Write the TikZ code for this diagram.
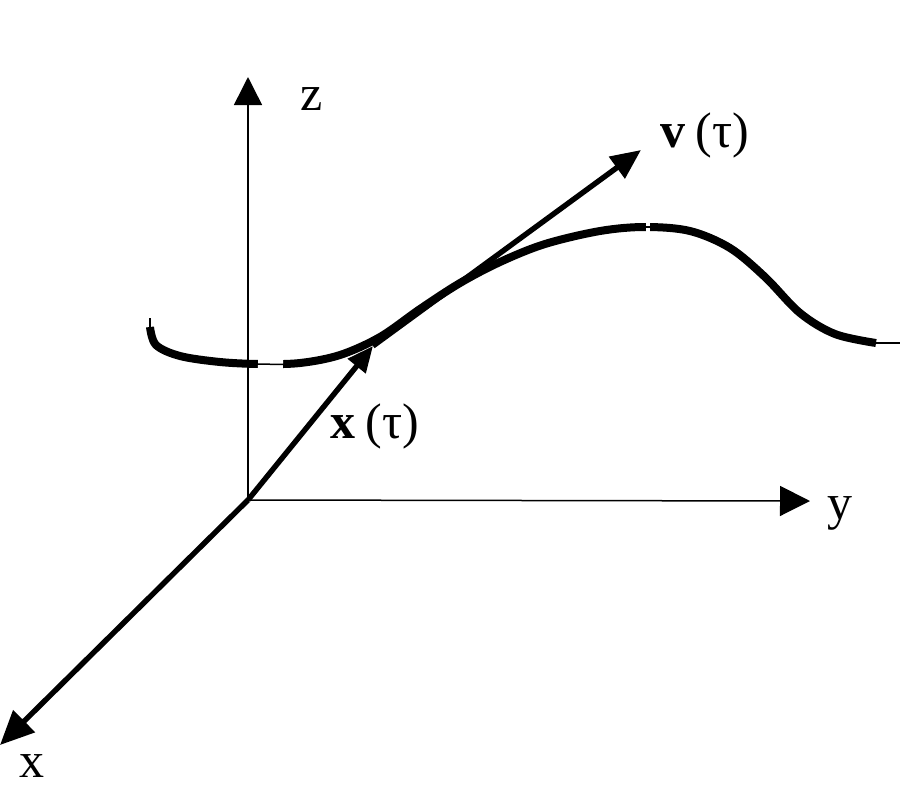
\documentclass[tikz,border=0pt]{standalone}
\usepackage{fontspec}
\setmainfont{Liberation Serif}
\usetikzlibrary{arrows.meta}
\begin{document}
\begin{tikzpicture}[x=0.5pt,y=-0.5pt,
  axis/.style={line width=0.75pt},
  vec/.style={line width=2.7pt},
  curveline/.style={line width=4pt},
  lbl/.style={font=\fontsize{25}{29}\selectfont, inner sep=0pt, anchor=base}]
\useasboundingbox (0,0) rectangle (900,800);
\coordinate (O) at (248,500);
\coordinate (Z) at (248,77);
\coordinate (Y) at (810,501);
\coordinate (X) at (0,745);
\coordinate (P) at (373,346);
\coordinate (V) at (641,150);
% axes
\draw[axis,-{Triangle[length=14pt,width=14pt]}] (O) -- (Z);
\draw[axis,-{Triangle[length=15pt,width=15pt]}] (O) -- (Y);
\draw[vec,-{Triangle[length=17pt,width=15pt]}] (O) -- (X);
% curve
\draw[curveline] plot[smooth, tension=0.55] coordinates {(150,327) (156,345) (180,356) (220,362) (260,364) (300,363) (340,355) (380,337) (420,309) (460,283) (500,262) (545,244) (600,231) (645,227) (690,231) (730,248) (765,277) (800,313) (835,334) (876,343)};
\draw[white,line width=4.8pt] (258,364) -- (283,364.5);
\draw[white,line width=4.8pt] (646,227) -- (650,227);
\draw[axis] (255,364) -- (286,364.5);
\draw[axis] (644,227) -- (652,227);
\draw[axis] (150,318) -- (150,330);
\draw[axis] (870,343) -- (900,343);
% vectors
\draw[vec,-{Triangle[length=13pt,width=11pt]}] (O) -- (P);
\draw[vec,-{Triangle[length=15pt,width=13pt]}] (P) -- (V);
% labels
\node[lbl] (zl) at (312,110) {z};
\node[lbl] (yl) at (840,519) {y};
\node[lbl] (xl) at (32,777) {x};
\node[lbl] (xt) at (375,438) {\textbf{x}\kern0.2em(τ)};
\node[lbl] (vt) at (705,147) {\textbf{v}\kern0.2em(τ)};
\end{tikzpicture}
\end{document}
